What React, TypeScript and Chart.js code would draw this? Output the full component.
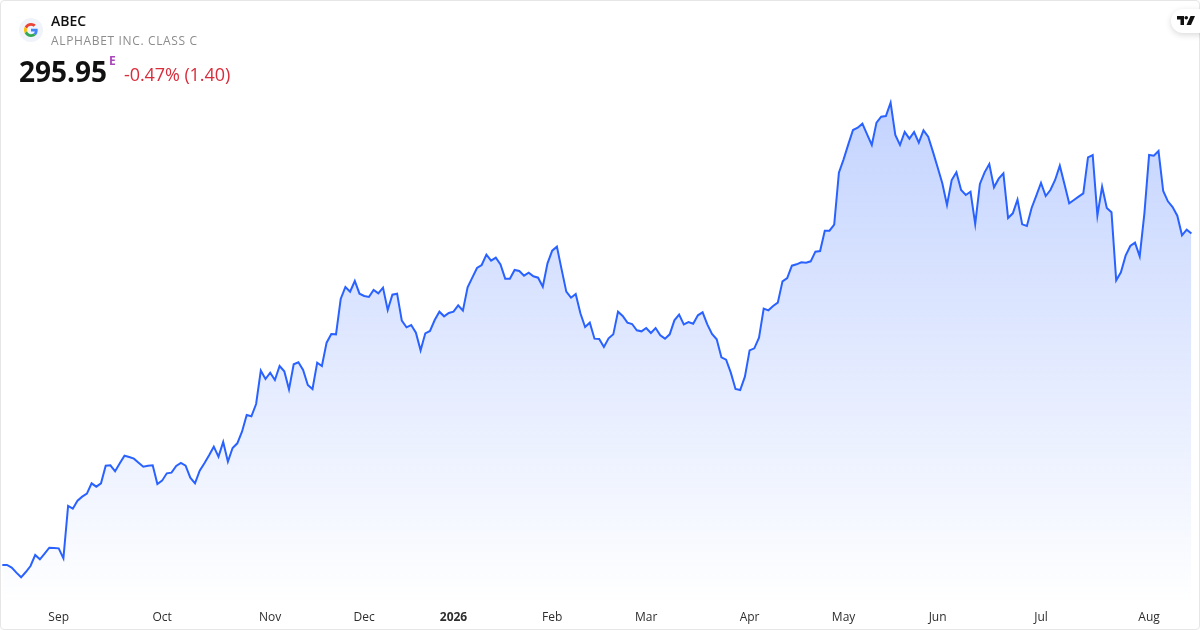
import { useEffect, useRef } from "react"
import { Chart, registerables } from "chart.js"

Chart.register(...registerables)

// daily closes, one per session
const closes = [
  196.5, 196.5, 195.7, 194.2, 192.8, 194.4, 196.2, 199.5, 198.2, 199.9, 201.7, 201.6, 201.5, 198.5, 214.2, 213.4,
  215.8, 217, 217.9, 221, 220, 221, 226.3, 226.4, 224.6, 227, 229.3, 228.9, 228.4, 227.2, 226, 226.3,
  226.4, 220.8, 221.8, 224, 224.2, 226.2, 227.1, 226.3, 222.7, 221, 224.8, 227, 229.4, 232, 229, 233.4,
  227.5, 231.6, 233, 236.5, 241.5, 241.1, 244.8, 254.8, 252.3, 254.2, 252, 256.2, 254.6, 249.2, 256.7, 257.3,
  255, 250.5, 249.3, 257.2, 256.2, 263.2, 265.8, 265.7, 276.3, 279.9, 278.5, 281.7, 277.9, 277.2, 276.9, 279,
  278, 279.7, 273, 277.6, 277.9, 269.8, 267.8, 268.5, 266.2, 260.9, 266, 266.7, 270, 272.5, 271.1, 272.1,
  272.5, 274.4, 272.8, 279.8, 282.7, 285.6, 286.5, 289.6, 287.8, 288.7, 286.7, 282.4, 282.4, 285, 284.7, 283.3,
  284.2, 283.1, 282.7, 280, 287, 290.8, 292, 285.2, 278.5, 276.7, 277.8, 272, 267.9, 269.2, 264.4, 264.3,
  261.9, 264.5, 265.7, 272.5, 271.2, 269.2, 268.8, 266.9, 266.6, 267.6, 266.1, 267.6, 265.4, 264.4, 265.7, 269.9,
  271.6, 268.7, 269.4, 268.9, 271.4, 272.3, 268.7, 265.8, 264.2, 258.8, 258.1, 254.2, 249.3, 249, 253, 260.9,
  261.5, 264.7, 273.4, 272.9, 274.2, 275.2, 281.6, 282.6, 286.3, 286.7, 287.3, 287.2, 287.6, 290.5, 290.7, 296.8,
  296.8, 298.6, 314.2, 318.2, 322.7, 327, 327.7, 328.9, 325.7, 322.5, 329.2, 331, 331.2, 335.2, 325.5, 322.5,
  326.4, 324.4, 326.4, 323.2, 326.9, 325, 320.5, 315.8, 311, 304.5, 312, 314.3, 309, 307.5, 308.5, 298.8,
  310.8, 314.3, 316.8, 309.8, 312.4, 314, 300.6, 302, 306.1, 298.7, 298.2, 303.6, 307.3, 311.1, 307.2, 309,
  312, 316.3, 310.7, 305, 306, 307, 308, 318.8, 319.5, 301.3, 310, 303.6, 302.3, 281.9, 284.3, 289.3,
  292.2, 293.2, 289.1, 302, 319.5, 319.3, 320.7, 308.7, 305.6, 303.9, 301.3, 295.4, 297.1, 295.95,
]

// first session of each month
const tickLabels = ["Sep", "Oct", "Nov", "Dec", "2026", "Feb", "Mar", "Apr", "May", "Jun", "Jul", "Aug"]
const tickSessions = [12, 34, 57, 77, 96, 117, 137, 159, 179, 199, 221, 244]

const FONT = '"Open Sans", sans-serif'
const BLUE = "#2962ff"

export default function App() {
  const chartRef = useRef<HTMLCanvasElement>(null)

  useEffect(() => {
    document.body.style.margin = "0"
    if (!chartRef.current) return

    const labels = closes.map((_, i) => {
      const pos = tickSessions.indexOf(i)
      return pos >= 0 ? tickLabels[pos] : ""
    })

    const chart = new Chart(chartRef.current, {
      type: "line",
      data: {
        labels,
        datasets: [
          {
            data: closes,
            borderColor: BLUE,
            borderWidth: 2,
            pointRadius: 0,
            tension: 0,
            fill: "start",
            backgroundColor: (c: any) => {
              const area = c.chart.chartArea
              if (!area) return "rgba(41,98,255,0.15)"
              const g = c.chart.ctx.createLinearGradient(0, 100, 0, area.bottom)
              g.addColorStop(0, "rgba(41,98,255,0.28)")
              g.addColorStop(1, "rgba(41,98,255,0)")
              return g
            },
          },
        ],
      },
      options: {
        responsive: false,
        animation: false,
        layout: { padding: { top: 90, left: 2.3, right: 8.6, bottom: 0 } },
        plugins: { legend: { display: false }, tooltip: { enabled: false } },
        scales: {
          y: { display: false, min: 184.5, max: 339 },
          x: {
            offset: false,
            afterFit: (axis: any) => {
              axis.height = 25
              axis.paddingLeft = 0
              axis.paddingRight = 0
            },
            grid: { display: false, drawTicks: false },
            border: { display: false },
            ticks: {
              autoSkip: false,
              maxRotation: 0,
              padding: 5,
              color: "#2e2e2e",
              font: (c: any) => ({
                family: FONT,
                size: 12,
                weight: c.tick && c.tick.label === "2026" ? "bold" : "normal",
              }),
            },
          },
        },
      },
    })

    return () => chart.destroy()
  }, [])

  return (
    <div style={{ position: "relative", width: 1200, height: 630, overflow: "hidden", fontFamily: FONT, background: "#fff" }}>
      <canvas ref={chartRef} width={1200} height={630} style={{ position: "absolute", left: 0, top: 0, display: "block" }} />

      {/* card outline */}
      <div style={{ position: "absolute", inset: 0, border: "1px solid #e6e6e6", borderRadius: 4, boxSizing: "border-box", pointerEvents: "none" }} />

      {/* symbol header */}
      <div style={{ position: "absolute", left: 19, top: 18, width: 24, height: 24, borderRadius: 12, background: "#f0f3fa" }}>
        <svg width="14" height="14" viewBox="0 0 48 48" style={{ position: "absolute", left: 5, top: 5 }}>
          <path fill="#EA4335" d="M24 9.5c3.5 0 6.7 1.2 9.2 3.6l6.9-6.9C35.9 2.4 30.5 0 24 0 14.6 0 6.5 5.4 2.6 13.2l8 6.2C12.5 13.6 17.8 9.5 24 9.5z" />
          <path fill="#4285F4" d="M46.9 24.5c0-1.6-.1-3.1-.4-4.5H24v9h12.9c-.6 3-2.2 5.5-4.8 7.2l7.7 6c4.5-4.2 7.1-10.3 7.1-17.7z" />
          <path fill="#FBBC05" d="M10.5 28.6c-.5-1.4-.8-3-.8-4.6s.3-3.2.8-4.6l-8-6.2C.9 16.5 0 20.1 0 24s.9 7.5 2.6 10.8l7.9-6.2z" />
          <path fill="#34A853" d="M24 48c6.5 0 11.9-2.1 15.9-5.8l-7.7-6c-2.2 1.4-4.9 2.3-8.2 2.3-6.2 0-11.5-4.2-13.4-9.9l-8 6.2C6.5 42.6 14.6 48 24 48z" />
        </svg>
      </div>
      <div style={{ position: "absolute", left: 51, top: 12, fontSize: 14, lineHeight: "18px", fontWeight: 600, color: "#111" }}>ABEC</div>
      <div style={{ position: "absolute", left: 51, top: 32, fontSize: 12, lineHeight: "17px", letterSpacing: 0.65, color: "#8c8c8c" }}>ALPHABET INC. CLASS C</div>
      <div style={{ position: "absolute", left: 19, top: 52, fontSize: 28, lineHeight: "38px", fontWeight: 700, color: "#111" }}>295.95</div>
      <div style={{ position: "absolute", left: 109, top: 53, fontSize: 12, lineHeight: "16px", fontWeight: 700, color: "#ab47bc" }}>E</div>
      <div style={{ position: "absolute", left: 124, top: 62, fontSize: 18, lineHeight: "25px", letterSpacing: -0.08, color: "#d92d3c" }}>-0.47% (1.40)</div>

      {/* TradingView badge */}
      <div style={{ position: "absolute", left: 1171, top: 9, width: 40, height: 24, borderRadius: 12, background: "#fff", boxShadow: "0 2px 6px rgba(0,0,0,0.15)" }}>
        <svg width="18" height="9" viewBox="0 0 36 18" style={{ position: "absolute", left: 6, top: 7 }}>
          <path fill="#111" d="M0 0h14v18H7V7H0V0z" />
          <circle cx="18.5" cy="3.6" r="3.6" fill="#111" />
          <path fill="#111" d="M27 0h9l-8 18h-9L27 0z" />
        </svg>
      </div>
    </div>
  )
}
